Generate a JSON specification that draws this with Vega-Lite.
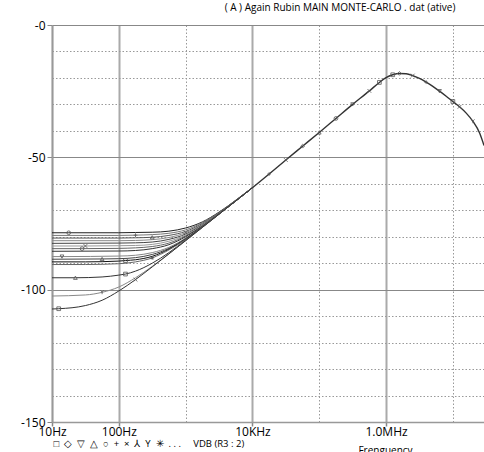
{
  "$schema": "https://vega.github.io/schema/vega-lite/v6.json",
  "width": 432,
  "height": 397,
  "autosize": "none",
  "padding": {"left": 52, "top": 25, "right": 0, "bottom": 30},
  "background": "white",
  "config": {"view": {"stroke": null}, "font": "Open Sans"},
  "title": {"text": "( A ) Again Rubin MAIN MONTE-CARLO . dat (ative)", "fontSize": 10, "fontWeight": "normal", "color": "#000", "anchor": "middle", "dx": 72, "offset": 6, "font": "Open Sans"},
  "data": {"values": [
    {"c": "a", "f": 10, "v": -78.5}, {"c": "a", "f": 17.8, "v": -78.5, "s": "ci"}, {"c": "a", "f": 100, "v": -78.5}, {"c": "a", "f": 177.8, "v": -78.4}, {"c": "a", "f": 316.2, "v": -78.3}, {"c": "a", "f": 562.3, "v": -77.9}, {"c": "a", "f": 1000, "v": -76.7}, {"c": "a", "f": 1778, "v": -74.4}, {"c": "a", "f": 3162, "v": -70.7}, {"c": "a", "f": 5623, "v": -66.2}, {"c": "a", "f": 10000, "v": -61.4},
    {"c": "b", "f": 10, "v": -79.5}, {"c": "b", "f": 100, "v": -79.5}, {"c": "b", "f": 177.8, "v": -79.4, "s": "pl"}, {"c": "b", "f": 316.2, "v": -79.2}, {"c": "b", "f": 562.3, "v": -78.7}, {"c": "b", "f": 1000, "v": -77.4}, {"c": "b", "f": 1778, "v": -74.7}, {"c": "b", "f": 3162, "v": -70.9}, {"c": "b", "f": 5623, "v": -66.3}, {"c": "b", "f": 10000, "v": -61.4},
    {"c": "c", "f": 10, "v": -80.5}, {"c": "c", "f": 100, "v": -80.5}, {"c": "c", "f": 177.8, "v": -80.4}, {"c": "c", "f": 316.2, "v": -80.2, "s": "tu"}, {"c": "c", "f": 562.3, "v": -79.5}, {"c": "c", "f": 1000, "v": -78.0}, {"c": "c", "f": 1778, "v": -75.0}, {"c": "c", "f": 3162, "v": -71.0}, {"c": "c", "f": 5623, "v": -66.3}, {"c": "c", "f": 10000, "v": -61.4},
    {"c": "d", "f": 10, "v": -81.5}, {"c": "d", "f": 100, "v": -81.5}, {"c": "d", "f": 177.8, "v": -81.4}, {"c": "d", "f": 316.2, "v": -81.1}, {"c": "d", "f": 562.3, "v": -80.3}, {"c": "d", "f": 1000, "v": -78.5, "s": "x"}, {"c": "d", "f": 1778, "v": -75.3}, {"c": "d", "f": 3162, "v": -71.1}, {"c": "d", "f": 5623, "v": -66.4}, {"c": "d", "f": 10000, "v": -61.5},
    {"c": "e", "f": 10, "v": -82.5}, {"c": "e", "f": 100, "v": -82.4}, {"c": "e", "f": 177.8, "v": -82.3}, {"c": "e", "f": 316.2, "v": -82.0}, {"c": "e", "f": 562.3, "v": -81.0}, {"c": "e", "f": 1000, "v": -79.0}, {"c": "e", "f": 1778, "v": -75.5}, {"c": "e", "f": 3162, "v": -71.2}, {"c": "e", "f": 5623, "v": -66.4}, {"c": "e", "f": 10000, "v": -61.5},
    {"c": "f", "f": 10, "v": -83.5}, {"c": "f", "f": 31.62, "v": -83.5, "s": "x"}, {"c": "f", "f": 100, "v": -83.4}, {"c": "f", "f": 177.8, "v": -83.3}, {"c": "f", "f": 316.2, "v": -82.9}, {"c": "f", "f": 562.3, "v": -81.7}, {"c": "f", "f": 1000, "v": -79.4}, {"c": "f", "f": 1778, "v": -75.7}, {"c": "f", "f": 3162, "v": -71.2}, {"c": "f", "f": 5623, "v": -66.4}, {"c": "f", "f": 10000, "v": -61.5},
    {"c": "g", "f": 10, "v": -84.5}, {"c": "g", "f": 28.2, "v": -84.5, "s": "ci"}, {"c": "g", "f": 100, "v": -84.4}, {"c": "g", "f": 177.8, "v": -84.2}, {"c": "g", "f": 316.2, "v": -83.7}, {"c": "g", "f": 562.3, "v": -82.4}, {"c": "g", "f": 1000, "v": -79.7}, {"c": "g", "f": 1778, "v": -75.9}, {"c": "g", "f": 3162, "v": -71.3}, {"c": "g", "f": 5623, "v": -66.4}, {"c": "g", "f": 10000, "v": -61.5},
    {"c": "h", "f": 10, "v": -85.5}, {"c": "h", "f": 100, "v": -85.4}, {"c": "h", "f": 177.8, "v": -85.2}, {"c": "h", "f": 316.2, "v": -84.5}, {"c": "h", "f": 562.3, "v": -83.0}, {"c": "h", "f": 1000, "v": -80.0}, {"c": "h", "f": 1778, "v": -76.0}, {"c": "h", "f": 3162, "v": -71.3}, {"c": "h", "f": 5623, "v": -66.4}, {"c": "h", "f": 10000, "v": -61.5},
    {"c": "i", "f": 10, "v": -87.5}, {"c": "i", "f": 14.1, "v": -87.5, "s": "td"}, {"c": "i", "f": 100, "v": -87.3}, {"c": "i", "f": 177.8, "v": -87.0}, {"c": "i", "f": 316.2, "v": -86.0}, {"c": "i", "f": 562.3, "v": -84.0}, {"c": "i", "f": 1000, "v": -80.5}, {"c": "i", "f": 1778, "v": -76.2}, {"c": "i", "f": 3162, "v": -71.4}, {"c": "i", "f": 5623, "v": -66.5}, {"c": "i", "f": 10000, "v": -61.5},
    {"c": "j", "f": 10, "v": -88.5}, {"c": "j", "f": 56.2, "v": -88.4, "s": "tu"}, {"c": "j", "f": 100, "v": -88.3}, {"c": "j", "f": 177.8, "v": -87.9}, {"c": "j", "f": 316.2, "v": -86.7}, {"c": "j", "f": 562.3, "v": -84.4}, {"c": "j", "f": 1000, "v": -80.7}, {"c": "j", "f": 1778, "v": -76.2}, {"c": "j", "f": 3162, "v": -71.4}, {"c": "j", "f": 5623, "v": -66.5}, {"c": "j", "f": 10000, "v": -61.5},
    {"c": "k", "f": 10, "v": -89.5}, {"c": "k", "f": 31.62, "v": -89.5}, {"c": "k", "f": 100, "v": -89.2}, {"c": "k", "f": 125.9, "v": -89.0, "s": "sq"}, {"c": "k", "f": 177.8, "v": -88.7}, {"c": "k", "f": 316.2, "v": -87.4}, {"c": "k", "f": 562.3, "v": -84.7}, {"c": "k", "f": 1000, "v": -80.9}, {"c": "k", "f": 1778, "v": -76.3}, {"c": "k", "f": 3162, "v": -71.4}, {"c": "k", "f": 5623, "v": -66.5}, {"c": "k", "f": 10000, "v": -61.5},
    {"c": "l", "f": 10, "v": -90.5}, {"c": "l", "f": 31.62, "v": -90.5}, {"c": "l", "f": 100, "v": -90.2}, {"c": "l", "f": 177.8, "v": -89.5}, {"c": "l", "f": 316.2, "v": -88.0, "s": "ast"}, {"c": "l", "f": 562.3, "v": -85.0}, {"c": "l", "f": 1000, "v": -81.0}, {"c": "l", "f": 1778, "v": -76.3}, {"c": "l", "f": 3162, "v": -71.4}, {"c": "l", "f": 5623, "v": -66.5}, {"c": "l", "f": 10000, "v": -61.5},
    {"c": "m", "f": 10, "v": -95.5}, {"c": "m", "f": 22.4, "v": -95.5, "s": "tu"}, {"c": "m", "f": 56.23, "v": -95.2}, {"c": "m", "f": 100, "v": -94.5}, {"c": "m", "f": 125.9, "v": -94.1, "s": "sq"}, {"c": "m", "f": 177.8, "v": -93.0}, {"c": "m", "f": 316.2, "v": -90.0}, {"c": "m", "f": 562.3, "v": -86.0}, {"c": "m", "f": 1000, "v": -81.3}, {"c": "m", "f": 1778, "v": -76.4}, {"c": "m", "f": 3162, "v": -71.5}, {"c": "m", "f": 5623, "v": -66.5}, {"c": "m", "f": 10000, "v": -61.5},
    {"c": "n", "f": 10, "v": -102.4}, {"c": "n", "f": 31.62, "v": -102.0}, {"c": "n", "f": 56.23, "v": -101.0, "s": "y"}, {"c": "n", "f": 100, "v": -99.0}, {"c": "n", "f": 177.8, "v": -95.5}, {"c": "n", "f": 316.2, "v": -91.2}, {"c": "n", "f": 562.3, "v": -86.4}, {"c": "n", "f": 1000, "v": -81.5}, {"c": "n", "f": 1778, "v": -76.5}, {"c": "n", "f": 3162, "v": -71.5}, {"c": "n", "f": 5623, "v": -66.5}, {"c": "n", "f": 10000, "v": -61.5},
    {"c": "o", "f": 10, "v": -107.3}, {"c": "o", "f": 12.6, "v": -107.2, "s": "sq"}, {"c": "o", "f": 31.62, "v": -106.0}, {"c": "o", "f": 56.23, "v": -104.0}, {"c": "o", "f": 100, "v": -100.5}, {"c": "o", "f": 177.8, "v": -96.2, "s": "x"}, {"c": "o", "f": 316.2, "v": -91.4}, {"c": "o", "f": 562.3, "v": -86.5}, {"c": "o", "f": 1000, "v": -81.5}, {"c": "o", "f": 1778, "v": -76.5}, {"c": "o", "f": 3162, "v": -71.5}, {"c": "o", "f": 5623, "v": -66.5}, {"c": "o", "f": 10000, "v": -61.5},
    {"c": "all", "f": 10000, "v": -61.5}, {"c": "all", "f": 17783, "v": -56.3, "s": "pl"}, {"c": "all", "f": 31623, "v": -51.0, "s": "x"}, {"c": "all", "f": 56234, "v": -45.8, "s": "di"}, {"c": "all", "f": 100000, "v": -40.6, "s": "tu"}, {"c": "all", "f": 177828, "v": -35.3, "s": "ci"}, {"c": "all", "f": 316228, "v": -30.0, "s": "td"}, {"c": "all", "f": 562341, "v": -24.9, "s": "x"}, {"c": "all", "f": 794328, "v": -21.7, "s": "sq"}, {"c": "all", "f": 1000000, "v": -19.9}, {"c": "all", "f": 1258925, "v": -18.8, "s": "sq"}, {"c": "all", "f": 1584893, "v": -18.3, "s": "di"}, {"c": "all", "f": 1995262, "v": -18.4}, {"c": "all", "f": 2511886, "v": -19.1, "s": "x"}, {"c": "all", "f": 3162278, "v": -20.2}, {"c": "all", "f": 3981072, "v": -21.6, "s": "pl"}, {"c": "all", "f": 5011872, "v": -23.2}, {"c": "all", "f": 6309573, "v": -25.0, "s": "td"}, {"c": "all", "f": 7943282, "v": -26.9}, {"c": "all", "f": 10000000, "v": -28.9, "s": "sq"}, {"c": "all", "f": 12589254, "v": -30.9, "s": "x"}, {"c": "all", "f": 15848932, "v": -33.3}, {"c": "all", "f": 19952623, "v": -36.4, "s": "y"}, {"c": "all", "f": 25118864, "v": -40.8}, {"c": "all", "f": 29240177, "v": -45.5}
  ]},
  "encoding": {
    "x": {
      "field": "f", "type": "quantitative",
      "scale": {"type": "log", "domain": [10, 29240177], "nice": false},
      "axis": {
        "values": [10, 100, 1000, 10000, 100000, 1000000, 10000000],
        "labelExpr": "datum.value == 10 ? '10Hz' : datum.value == 100 ? '100Hz' : datum.value == 10000 ? '10KHz' : datum.value == 1000000 ? '1.0MHz' : ''",
        "grid": true,
        "gridDash": {"condition": {"test": "datum.value == 1000 || datum.value == 100000 || datum.value == 10000000", "value": [1.5, 2]}, "value": []},
        "gridColor": {"condition": {"test": "datum.value == 1000 || datum.value == 100000 || datum.value == 10000000", "value": "#999"}, "value": "#aaa"},
        "gridWidth": {"condition": {"test": "datum.value == 1000 || datum.value == 100000 || datum.value == 10000000", "value": 1}, "value": 2},
        "tickOpacity": {"condition": {"test": "datum.value == 1000 || datum.value == 100000 || datum.value == 10000000", "value": 0}, "value": 1},
        "tickColor": "#888", "tickSize": 4, "tickWidth": 1.5,
        "domainColor": "#999", "domainWidth": 1.5,
        "labelFontSize": 12, "labelColor": "#000", "labelPadding": 0, "labelFlush": false, "labelOverlap": false,
        "title": "Frenguency", "titleFontSize": 10, "titleFontWeight": "normal", "titleColor": "#000",
        "titleX": 333, "titleY": 23, "titleBaseline": "top", "titleAlign": "center"
      }
    },
    "y": {
      "field": "v", "type": "quantitative",
      "scale": {"domain": [-150, 0], "nice": false, "zero": false},
      "axis": {
        "values": [-150, -140, -130, -120, -110, -100, -90, -80, -70, -60, -50, -40, -30, -20, -10, 0],
        "labelExpr": "datum.value == 0 ? '-0' : (datum.value % 50 == 0 ? '-' + abs(datum.value) : '')",
        "grid": true,
        "gridDash": {"condition": {"test": "datum.value % 50 == 0", "value": []}, "value": [1.5, 2]},
        "gridColor": {"condition": {"test": "datum.value % 50 == 0", "value": "#888"}, "value": "#999"},
        "gridWidth": {"condition": {"test": "datum.value % 50 == 0", "value": 1.2}, "value": 1},
        "tickOpacity": {"condition": {"test": "datum.value % 50 == 0", "value": 1}, "value": 0},
        "tickSize": 5, "tickColor": "#888",
        "domainColor": "#999", "domainWidth": 1.5,
        "labelFontSize": 12, "labelPadding": 2, "labelColor": "#000", "labelFlush": false, "labelOverlap": false,
        "title": "□\u00a0 ◇\u00a0 ▽\u00a0 △\u00a0 ○\u00a0 +\u00a0 ×\u00a0 ⅄\u00a0 Y\u00a0 ✳\u00a0 . . .\u00a0\u00a0\u00a0\u00a0\u00a0VDB (R3 : 2)",
        "titleAngle": 0, "titleAlign": "left", "titleBaseline": "top", "titleX": 1, "titleY": 413,
        "titleFontSize": 9.5, "titleFontWeight": "normal", "titleColor": "#000"
      }
    }
  },
  "layer": [
    {
      "transform": [{"filter": "datum.c != 'all'"}],
      "mark": {"type": "line", "interpolate": "monotone", "strokeWidth": 1, "clip": true},
      "encoding": {
        "color": {
          "field": "c", "type": "nominal", "legend": null,
          "scale": {
            "domain": ["a", "b", "c", "d", "e", "f", "g", "h", "i", "j", "k", "l", "m", "n", "o"],
            "range": ["#222", "#777", "#555", "#888", "#444", "#999", "#666", "#333", "#888", "#444", "#111", "#666", "#333", "#888", "#333"]
          }
        }
      }
    },
    {
      "transform": [{"filter": "datum.c == 'all'"}],
      "mark": {"type": "line", "interpolate": "monotone", "strokeWidth": 1.4, "color": "#333", "clip": true}
    },
    {
      "transform": [{"filter": "isValid(datum.s)"}],
      "mark": {"type": "point", "filled": false, "size": 14, "strokeWidth": 0.8, "color": "#555", "opacity": 1, "clip": true},
      "encoding": {
        "shape": {
          "field": "s", "type": "nominal", "legend": null,
          "scale": {
            "domain": ["sq", "di", "td", "tu", "ci", "pl", "x", "y", "ast"],
            "range": ["square", "diamond", "triangle-down", "triangle-up", "circle", "M-1,0L1,0M0,-1L0,1", "M-1,-1L1,1M-1,1L1,-1", "M0,1L0,-0.2M0,-0.2L-0.9,-1M0,-0.2L0.9,-1", "M0,-1L0,1M-1,0L1,0M-0.7,-0.7L0.7,0.7M-0.7,0.7L0.7,-0.7"]
          }
        }
      }
    }
  ]
}
